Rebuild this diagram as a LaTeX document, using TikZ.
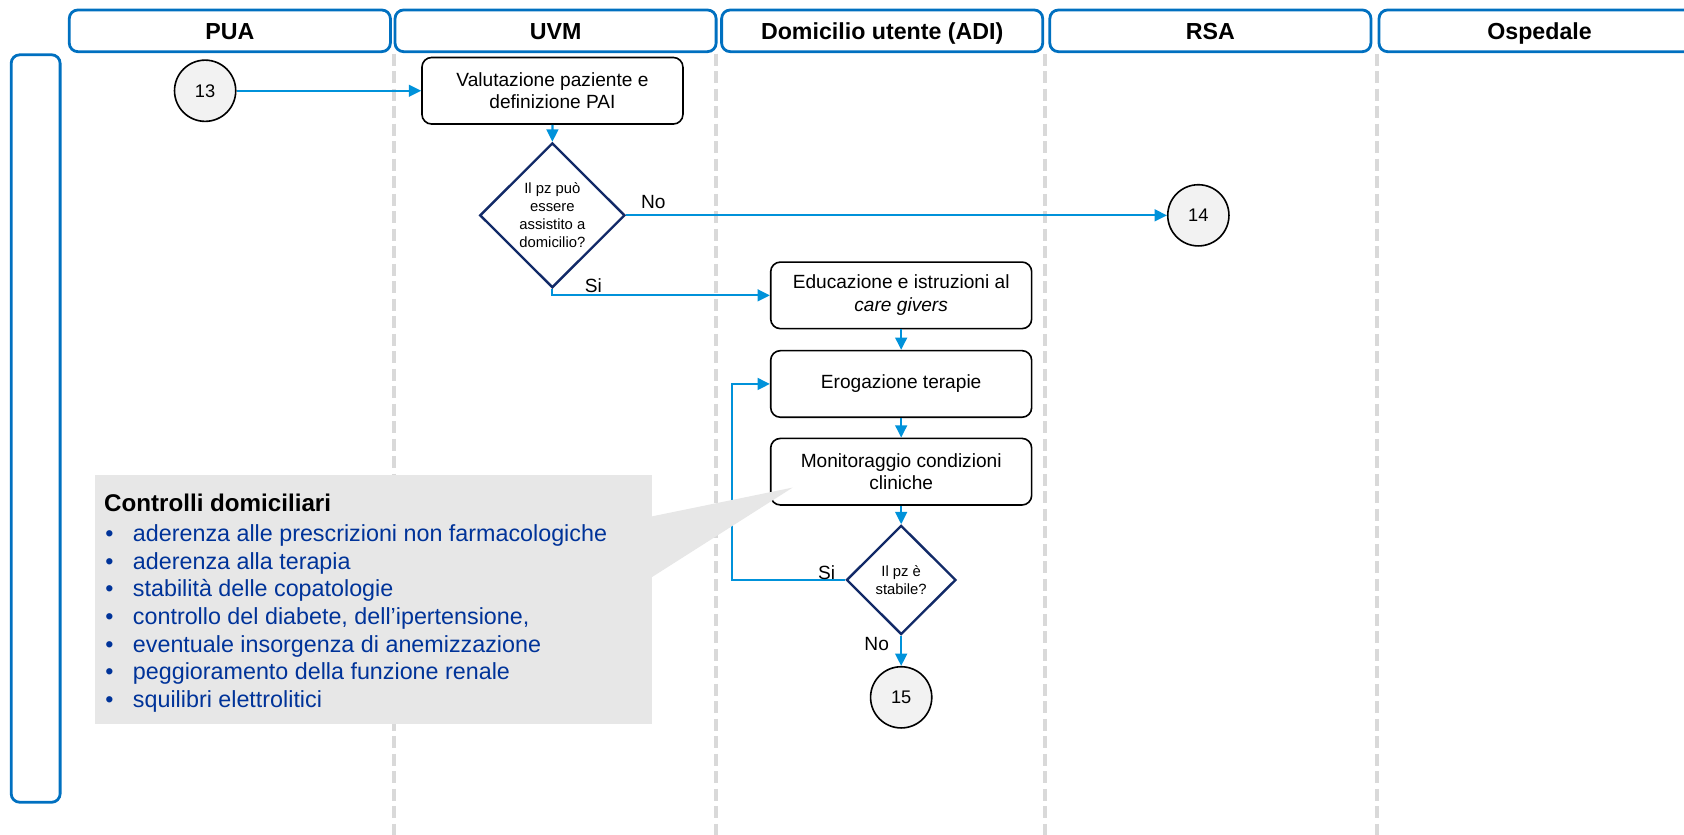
\documentclass[tikz,border=0pt]{standalone}
\usepackage{fontspec}
\setmainfont{Liberation Sans}
\usetikzlibrary{arrows.meta,shapes.geometric}

\definecolor{hdrblue}{RGB}{0,112,192}
\definecolor{flowblue}{RGB}{0,146,218}
\definecolor{decnavy}{RGB}{18,42,104}
\definecolor{lanegray}{RGB}{217,217,217}
\definecolor{notefill}{RGB}{231,231,231}
\definecolor{notetext}{RGB}{0,51,153}
\definecolor{termfill}{RGB}{242,242,242}

\tikzset{
  hdr/.style={draw=hdrblue, line width=2.6pt, rounded corners=8pt, fill=white,
    minimum width=299pt, minimum height=38.8pt, inner sep=0pt,
    text height=15.6pt, text depth=0pt, anchor=base,
    font=\fontsize{21.6}{26}\selectfont\bfseries},
  lanebox/.style={draw=hdrblue, line width=2.6pt, rounded corners=8pt},
  sep/.style={draw=lanegray, line width=3.5pt, dash pattern=on 11pt off 5.3pt},
  proc/.style={draw=black, line width=1.5pt, rounded corners=9pt, fill=white,
    minimum width=243pt, minimum height=62pt, inner sep=0pt, align=center,
    font=\fontsize{17.8}{21.2}\selectfont},
  dec/.style={diamond, draw=decnavy, line width=2.2pt, fill=white, inner sep=0pt},
  dectext/.style={align=center, font=\fontsize{13.8}{16.7}\selectfont},
  term/.style={circle, draw=black, line width=1.5pt, fill=termfill,
    minimum size=57pt, inner sep=0pt, font=\fontsize{17}{20}\selectfont},
  flow/.style={draw=flowblue, line width=2pt, -{Triangle[length=11.5pt,width=11pt]}},
  tag/.style={inner sep=0pt, font=\fontsize{17.8}{21.2}\selectfont},
  notehead/.style={anchor=base west, inner sep=0pt,
    font=\fontsize{22.5}{26}\selectfont\bfseries},
  notebullet/.style={anchor=base west, inner sep=0pt, text=notetext,
    font=\fontsize{21.7}{25.8}\selectfont},
}

\begin{document}
\begin{tikzpicture}[x=1pt, y=-1pt]
  \useasboundingbox (0,0) rectangle (1568,777);
  \clip (0,0) rectangle (1568,777);

  % lane separators
  \foreach \sx/\sn in {366.6/a, 667/b, 973/c, 1282/d} {
    \coordinate (sept\sn) at (\sx,50);
    \coordinate (sepb\sn) at (\sx,790);
    \draw[sep] (sept\sn) -- (sepb\sn);
  }

  % lane headers (anchored on the text baseline; the box centre lies 7.8pt above it)
  \node[hdr] (hPUA) at (214,36.5) {PUA};
  \node[hdr] (hUVM) at (517.3,36.5) {UVM};
  \node[hdr] (hADI) at (821.4,36.5) {Domicilio utente (ADI)};
  \node[hdr] (hRSA) at (1127,36.5) {RSA};
  \node[hdr] (hOSP) at (1433.5,36.5) {Ospedale};

  % row label frame
  \draw[lanebox] (10.4,51) rectangle (56,747);

  % flow nodes
  \node[term] (c13) at (191,84.5) {13};
  \node[proc] (valut) at (514.4,84.5) {Valutazione paziente e\\definizione PAI};
  \node[dec, minimum width=135.2pt, minimum height=134.8pt,
    label={[dectext]center:{Il pz può\\essere\\assistito a\\domicilio?}}] (d1) at (514.3,200.5) {};
  \node[term] (c14) at (1115.8,200.5) {14};
  \node[proc] (edu) at (839.1,275) {Educazione e istruzioni al\\\textit{care givers}};
  \node[proc] (erog) at (839.1,357.5) {Erogazione terapie};
  \node[proc] (mon) at (839.1,439.2) {Monitoraggio condizioni\\cliniche};
  \node[dec, minimum width=102pt, minimum height=101.6pt,
    label={[dectext]center:{Il pz è\\stabile?}}] (d2) at (839.1,540) {};
  \node[term] (c15) at (839.1,649.3) {15};

  % connectors
  \coordinate (loopx) at (681.9,540);
  \draw[flow] (c13.east) -- (valut.west);
  \draw[flow] (valut.south) -- (d1.north);
  \draw[flow] (d1.east) -- (c14.west);
  \draw[flow] (d1.south) |- (edu.west);
  \draw[flow] (edu.south) -- (erog.north);
  \draw[flow] (erog.south) -- (mon.north);
  \draw[flow] (mon.south) -- (d2.north);
  \draw[flow] (d2.west) -- (loopx) |- (erog.west);
  \draw[flow] (d2.south) -- (c15.north);

  % branch labels
  \node[tag] (no1) at (608.3,187.8) {No};
  \node[tag] (si1) at (552.4,266) {Si};
  \node[tag] (si2) at (769.7,533.2) {Si};
  \node[tag] (no2) at (816.3,600) {No};

  % note callout, laid over the flow
  \fill[notefill] (88,442) rectangle (607,674);
  \fill[notefill] (606,481) -- (738,454) -- (606,538) -- cycle;
  \node[notehead] (notetitle) at (96.8,476.4) {Controlli domiciliari};
  \foreach \txt [count=\i] in {{aderenza alle prescrizioni non farmacologiche},
      {aderenza alla terapia},{stabilità delle copatologie},
      {controllo del diabete, dell’ipertensione,},
      {eventuale insorgenza di anemizzazione},
      {peggioramento della funzione renale},{squilibri elettrolitici}} {
    \node[notebullet] (dot\i) at ({97.8},{478.2+25.8*\i}) {\textbullet};
    \node[notebullet] (item\i) at ({123.6},{478.2+25.8*\i}) {\txt};
  }
\end{tikzpicture}
\end{document}
